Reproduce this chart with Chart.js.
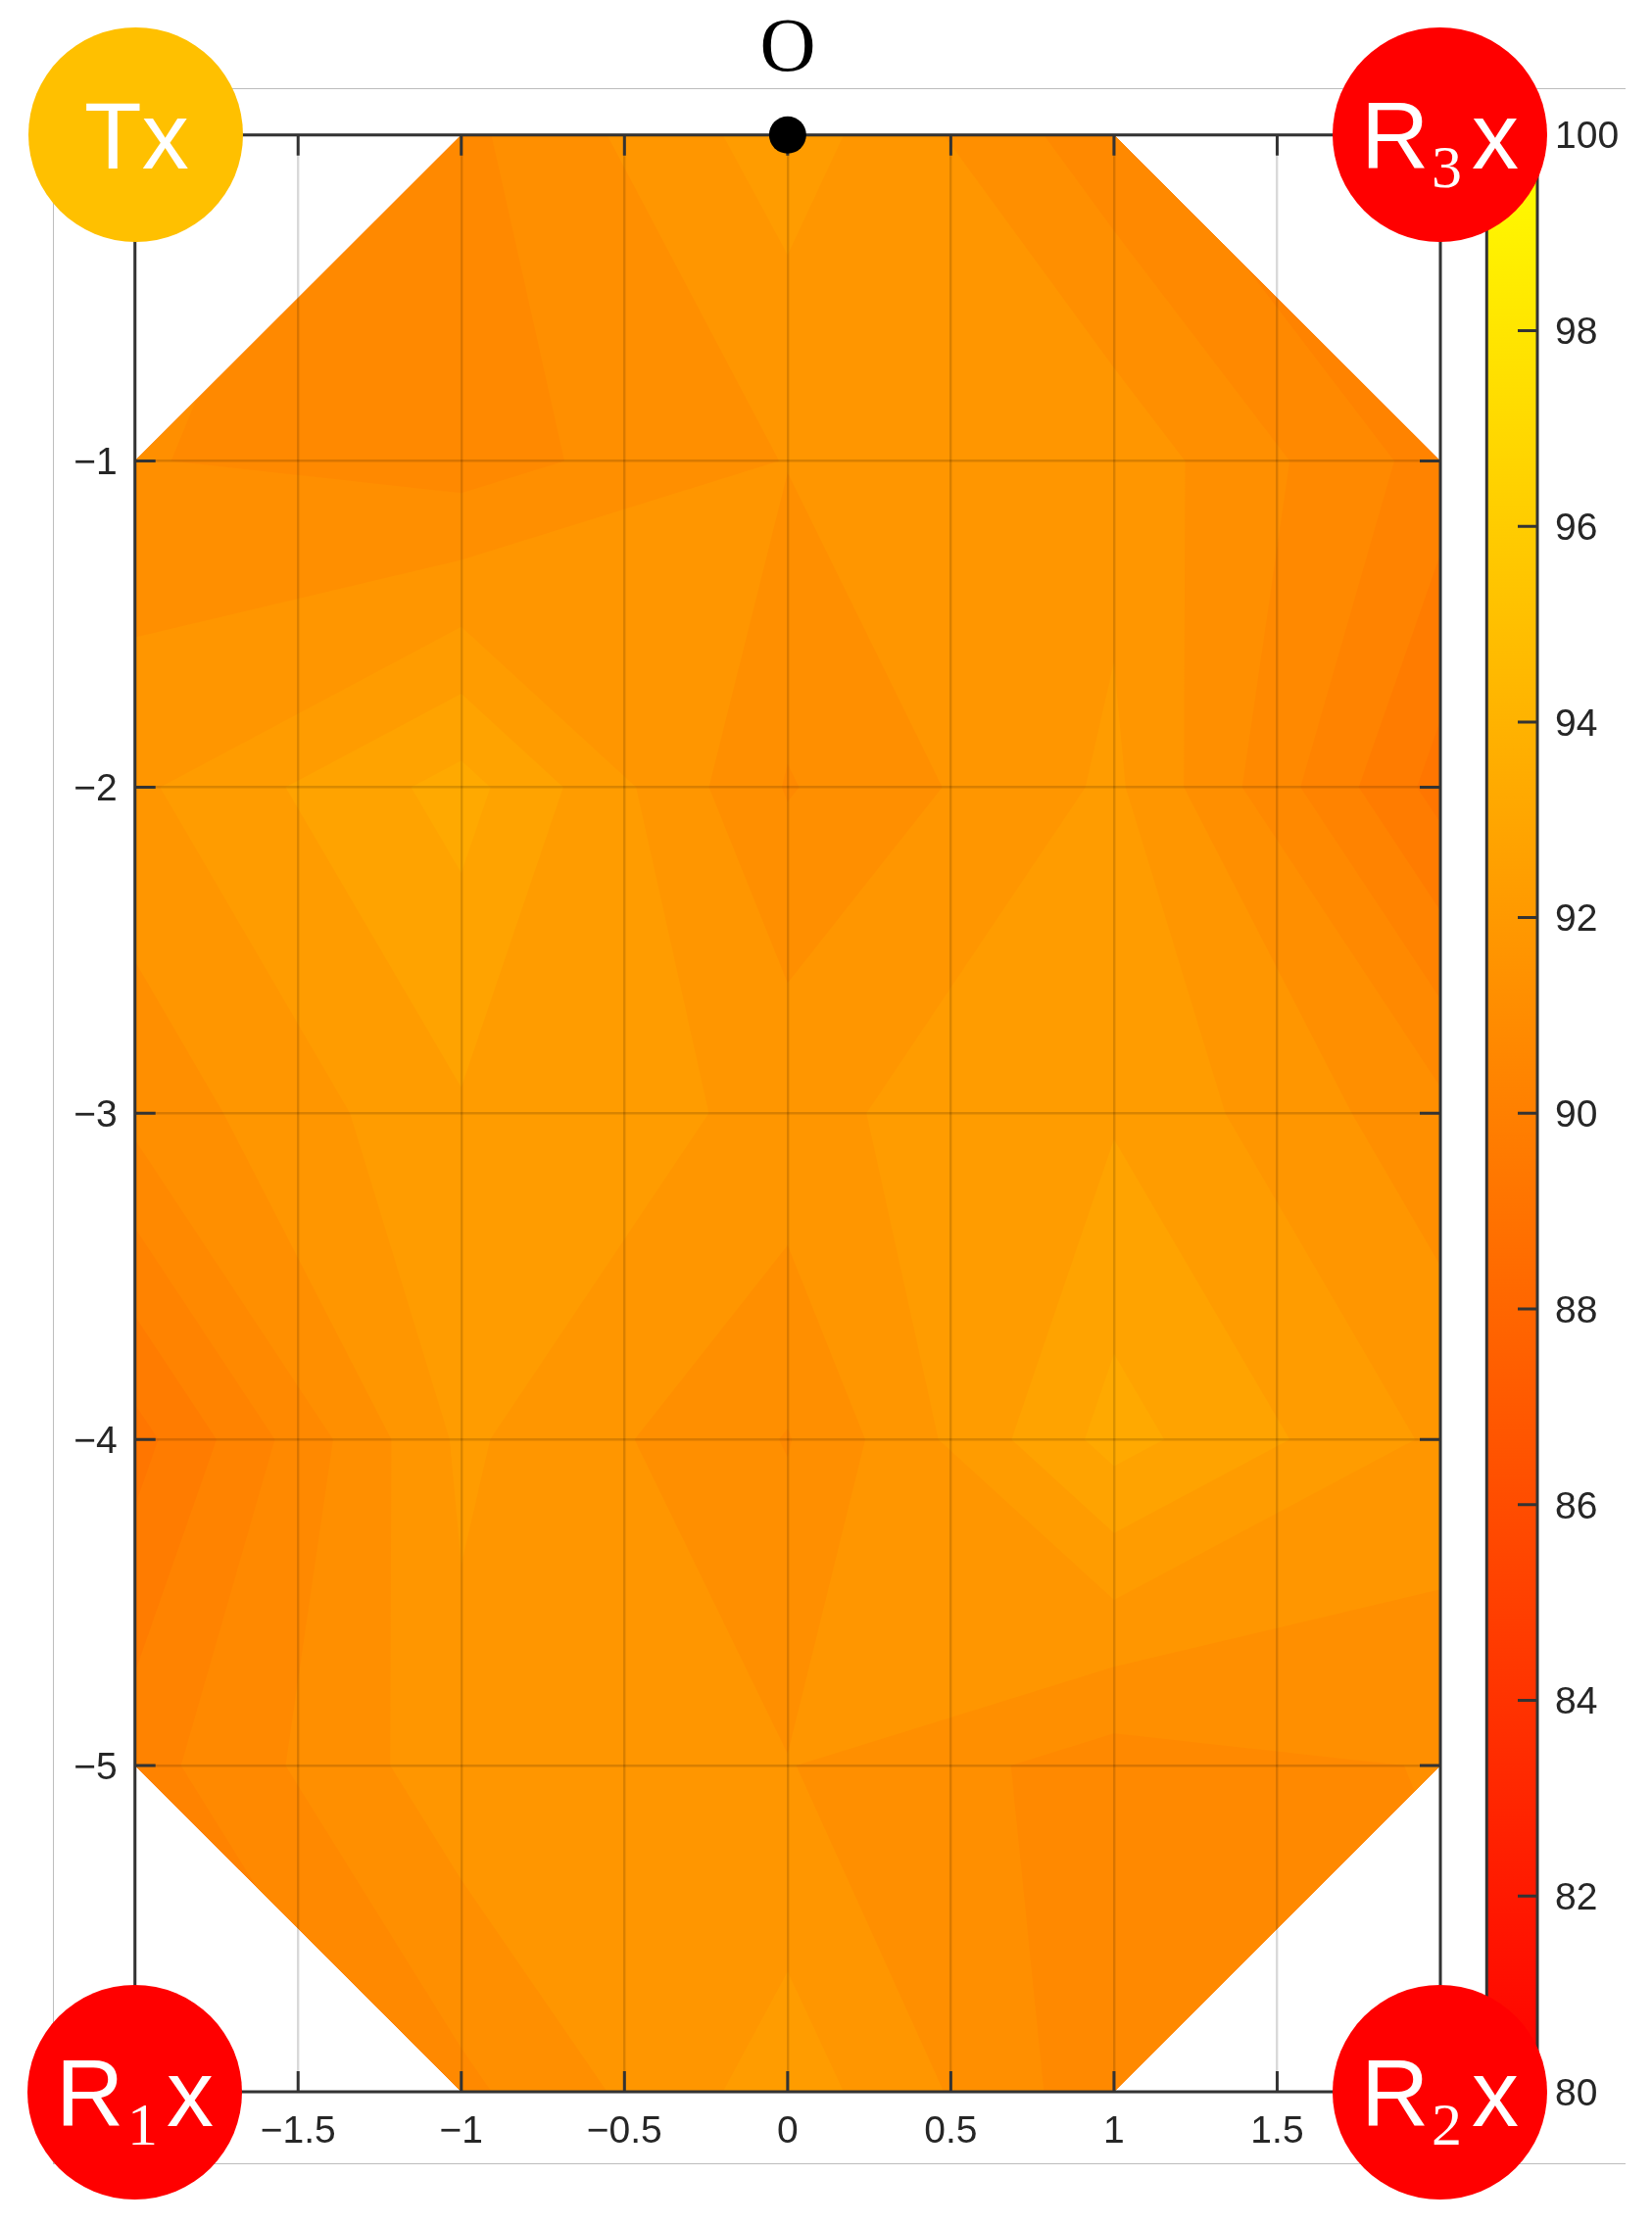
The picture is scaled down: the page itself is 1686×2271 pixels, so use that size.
<!DOCTYPE html>
<html>
<head>
<meta charset="utf-8">
<script src="https://cdn.jsdelivr.net/npm/chart.js@4"></script>
<style>
html,body{margin:0;padding:0;background:#fff;}
body{position:relative;width:1686px;height:2271px;overflow:hidden;font-family:"Liberation Sans",sans-serif;}
canvas{position:absolute;left:0;top:0;}
#panel{position:absolute;left:54px;top:90px;width:1605px;height:2119px;border:1px solid #bdbdbd;border-right:none;box-sizing:border-box;}
.circle{position:absolute;width:219px;height:219px;border-radius:50%;}
.circle span{position:absolute;color:#fff;white-space:pre;}
.big{font:96px/1 "Liberation Sans",sans-serif;top:63px;}
.sub{font:62px/1 "Liberation Serif",serif;top:111px;}
#origin{position:absolute;left:744px;width:120px;text-align:center;font:79px/1 "Liberation Serif",serif;color:#000;top:6px;}
</style>
</head>
<body>
<div id="panel"></div>
<canvas id="cbar" width="186" height="2271" style="left:1500px;width:186px;height:2271px"></canvas>
<canvas id="map" width="1686" height="2271" style="width:1686px;height:2271px"></canvas>
<div id="origin">O</div>
<div class="circle" style="left:29px;top:28px;background:#FFC000"><span class="big" style="left:57px">Tx</span></div>
<div class="circle" style="left:28px;top:2026px;background:#FF0000"><span class="big" style="left:29px">R</span><span class="sub" style="left:102px">1</span><span class="big" style="left:142px">x</span></div>
<div class="circle" style="left:1360px;top:2026px;background:#FF0000"><span class="big" style="left:29px">R</span><span class="sub" style="left:101px">2</span><span class="big" style="left:142px">x</span></div>
<div class="circle" style="left:1360px;top:28px;background:#FF0000"><span class="big" style="left:29px">R</span><span class="sub" style="left:101px">3</span><span class="big" style="left:142px">x</span></div>
<script>
// ---- data ----
const xNodes = [-2, -1, 0, 1, 2];
const yNodes = [0, -1, -2, -3, -4, -5, -6];
const row0 = [null, 90.87, 92.28, 90.65, null];
const row1 = [91.03, 90.76, 91.52, 91.84, 90.28];
const row2 = [91.90, 93.20, 90.96, 92.10, 89.30];
const row3 = [91.15, 92.44, 91.86, 92.44, 91.15];
const row4 = [89.30, 92.10, 90.97, 93.20, 91.90];
const row5 = [90.28, 91.84, 91.52, 90.76, 91.03];
const row6 = [null, 90.87, 92.28, 90.65, null];
const zRows = [row0, row1, row2, row3, row4, row5, row6];
const contourLevels = [89, 89.5, 90, 90.5, 91, 91.5, 92, 92.5, 93];
const levelStep = 0.5;
const cbarMin = 80, cbarMax = 100;
const originPoint = [{x: 0, y: 0}];

const INK = '#333333';
const TEXT = '#262626';
const autumn = v => `rgb(255,${Math.round((v - cbarMin) / (cbarMax - cbarMin) * 255)},0)`;
const minusFmt = v => String(v).replace('-', '\u2212');

// polygon of the part of one grid cell at or above a level
function cellPolygon(corners, level) {
  const pts = [];
  for (let i = 0; i < corners.length; i++) {
    const a = corners[i], b = corners[(i + 1) % corners.length];
    if (a.z >= level) pts.push(a);
    if ((a.z >= level) !== (b.z >= level)) {
      const t = (level - a.z) / (b.z - a.z);
      pts.push({x: a.x + t * (b.x - a.x), y: a.y + t * (b.y - a.y)});
    }
  }
  return pts;
}

const contourPlugin = {
  id: 'contourFill',
  beforeDraw(chart) {
    const {ctx, scales: {x, y}} = chart;
    ctx.save();
    for (const level of contourLevels) {
      ctx.beginPath();
      for (let r = 0; r < yNodes.length - 1; r++) {
        for (let c = 0; c < xNodes.length - 1; c++) {
          const corners = [[r, c], [r, c + 1], [r + 1, c + 1], [r + 1, c]]
            .map(([i, j]) => ({x: xNodes[j], y: yNodes[i], z: zRows[i][j]}))
            .filter(p => p.z !== null);
          const poly = cellPolygon(corners, level);
          if (poly.length < 3) continue;
          poly.forEach((p, k) => {
            const px = x.getPixelForValue(p.x), py = y.getPixelForValue(p.y);
            k ? ctx.lineTo(px, py) : ctx.moveTo(px, py);
          });
          ctx.closePath();
        }
      }
      ctx.fillStyle = autumn(level + levelStep / 2);
      ctx.fill('nonzero');
    }
    ctx.restore();
  },
  beforeDatasetsDraw(chart) {
    const {ctx, chartArea: a, scales: {x, y}} = chart;
    const len = 21;
    ctx.save();
    ctx.strokeStyle = INK;
    ctx.lineWidth = 3;
    ctx.beginPath();
    x.ticks.forEach(t => {
      const p = x.getPixelForValue(t.value);
      ctx.moveTo(p, a.top); ctx.lineTo(p, a.top + len);
      ctx.moveTo(p, a.bottom); ctx.lineTo(p, a.bottom - len);
    });
    y.ticks.forEach(t => {
      const p = y.getPixelForValue(t.value);
      ctx.moveTo(a.left, p); ctx.lineTo(a.left + len, p);
      ctx.moveTo(a.right, p); ctx.lineTo(a.right - len, p);
    });
    ctx.stroke();
    ctx.strokeRect(a.left, a.top, a.right - a.left, a.bottom - a.top);
    ctx.restore();
  }
};

const tickFont = {family: '"Liberation Sans", sans-serif', size: 39};

new Chart(document.getElementById('map'), {
  type: 'scatter',
  plugins: [contourPlugin],
  data: {
    datasets: [{
      label: 'O',
      data: originPoint,
      pointRadius: 19,
      pointHoverRadius: 19,
      pointBackgroundColor: '#000',
      pointBorderWidth: 0,
      clip: false
    }]
  },
  options: {
    responsive: false,
    animation: false,
    events: [],
    layout: {padding: {left: 37.7, top: 137.7, right: 216, bottom: 76}},
    plugins: {legend: {display: false}, tooltip: {enabled: false}, title: {display: false}},
    scales: {
      x: {
        type: 'linear', min: -2, max: 2,
        afterFit: s => { s.height = 60; },
        border: {display: false},
        grid: {color: 'rgba(0,0,0,0.15)', lineWidth: 2.4, drawTicks: false},
        ticks: {stepSize: 0.5, autoSkip: false, maxRotation: 0, padding: 18, color: TEXT, font: tickFont, callback: minusFmt}
      },
      y: {
        type: 'linear', min: -6, max: 0,
        afterFit: s => { s.width = 100; },
        border: {display: false},
        grid: {color: 'rgba(0,0,0,0.15)', lineWidth: 2.4, drawTicks: false},
        ticks: {stepSize: 1, autoSkip: false, padding: 18, labelOffset: 3, color: TEXT, font: tickFont, callback: minusFmt}
      }
    }
  }
});

const cbarRange = [[cbarMin, cbarMax]];
const cbarTicks = [80, 82, 84, 86, 88, 90, 92, 94, 96, 98, 100];
const cbarFrame = {
  id: 'cbarFrame',
  afterDatasetsDraw(chart) {
    const {ctx, chartArea: a, scales: {y}} = chart;
    ctx.save();
    ctx.strokeStyle = INK;
    ctx.lineWidth = 3;
    ctx.beginPath();
    y.ticks.forEach(t => {
      const p = y.getPixelForValue(t.value);
      ctx.moveTo(a.right, p); ctx.lineTo(a.right - 20, p);
    });
    ctx.stroke();
    ctx.strokeRect(a.left, a.top, a.right - a.left, a.bottom - a.top);
    ctx.restore();
  }
};

new Chart(document.getElementById('cbar'), {
  type: 'bar',
  plugins: [cbarFrame],
  data: {
    labels: [''],
    datasets: [{
      data: cbarRange,
      barPercentage: 1,
      categoryPercentage: 1,
      borderWidth: 0,
      backgroundColor(c) {
        const {ctx, chartArea, scales} = c.chart;
        if (!chartArea || !scales.y) return '#f00';
        const y0 = scales.y.getPixelForValue(cbarMin), y1 = scales.y.getPixelForValue(cbarMax);
        if (!isFinite(y0) || !isFinite(y1)) return '#f00';
        const g = ctx.createLinearGradient(0, y0, 0, y1);
        g.addColorStop(0, autumn(cbarMin));
        g.addColorStop(1, autumn(cbarMax));
        return g;
      }
    }]
  },
  options: {
    responsive: false,
    animation: false,
    events: [],
    layout: {padding: {left: 17.3, top: 137.7, right: 17, bottom: 136}},
    plugins: {legend: {display: false}, tooltip: {enabled: false}},
    scales: {
      x: {display: false},
      y: {
        type: 'linear', position: 'right', min: cbarMin, max: cbarMax,
        afterFit: s => { s.width = 100; },
        afterBuildTicks: s => { s.ticks = cbarTicks.map(v => ({value: v})); },
        border: {display: false},
        grid: {display: false, drawTicks: false},
        ticks: {padding: 18, labelOffset: 3, color: TEXT, font: tickFont, autoSkip: false}
      }
    }
  }
});
</script>
</body>
</html>
